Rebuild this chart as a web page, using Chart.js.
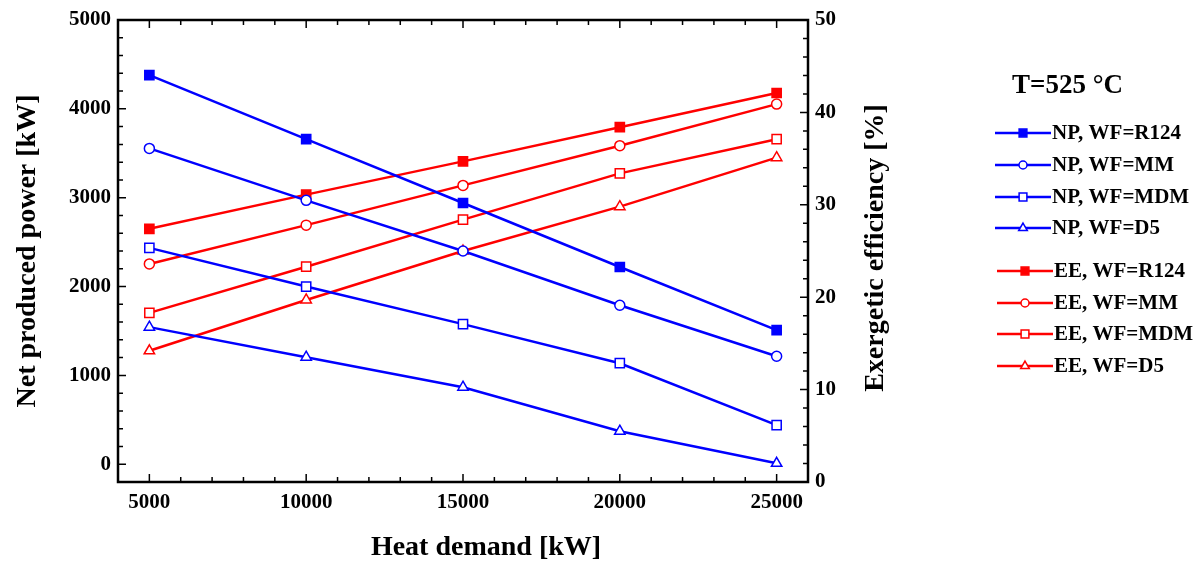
<!DOCTYPE html>
<html>
<head>
<meta charset="utf-8">
<script src="https://cdn.jsdelivr.net/npm/chart.js@4.4.0/dist/chart.umd.min.js"></script>
<style>
  html, body { margin: 0; padding: 0; background: #fff; }
  #wrap { width: 1204px; height: 569px; }
</style>
</head>
<body>
<div id="wrap"><canvas id="myChart" width="1204" height="569"></canvas></div>
<script>
// values
const heatDemand = [5000, 10000, 15000, 20000, 25000];

// net produced power [kW] (left axis)
const npR124 = [4380, 3660, 2940, 2220, 1510];
const npMM = [3555, 2970, 2400, 1790, 1215];
const npMDM = [2435, 2000, 1577, 1137, 440];
const npD5 = [1543, 1205, 867, 372, 10];

// exergetic efficiency [%] (right axis)
const eeR124 = [27.4, 31.1, 34.7, 38.4, 42.1];
const eeMM = [23.6, 27.8, 32.1, 36.4, 40.9];
const eeMDM = [18.3, 23.3, 28.4, 33.4, 37.1];
const eeD5 = [14.2, 19.7, 25.0, 29.8, 35.1];

const xTicks = [5000, 10000, 15000, 20000, 25000];
const leftTicks = [0, 1000, 2000, 3000, 4000, 5000];
const rightTicks = [0, 10, 20, 30, 40, 50];

const FONT = '"Liberation Serif", "Times New Roman", serif';
const BLUE = "#0000ff";
const RED = "#ff0000";

function series(label, values, axis, color, style, filled, radius) {
  return {
    label: label,
    data: heatDemand.map((x, i) => ({ x: x, y: values[i] })),
    yAxisID: axis,
    borderColor: color,
    backgroundColor: color,
    borderWidth: 2.5,
    pointStyle: style,
    pointRadius: radius,
    pointHoverRadius: radius,
    pointBackgroundColor: filled ? color : "#fff",
    pointBorderColor: color,
    pointBorderWidth: 1.5,
    tension: 0
  };
}

const datasets = [
  series("NP, WF=R124", npR124, "y", BLUE, "rect", true, 6.5),
  series("NP, WF=MM", npMM, "y", BLUE, "circle", false, 5),
  series("NP, WF=MDM", npMDM, "y", BLUE, "rect", false, 6.5),
  series("NP, WF=D5", npD5, "y", BLUE, "triangle", false, 6),
  series("EE, WF=R124", eeR124, "y2", RED, "rect", true, 6.5),
  series("EE, WF=MM", eeMM, "y2", RED, "circle", false, 5),
  series("EE, WF=MDM", eeMDM, "y2", RED, "rect", false, 6.5),
  series("EE, WF=D5", eeD5, "y2", RED, "triangle", false, 6)
];

// frame, inward ticks, axis titles, legend
const decoPlugin = {
  id: "deco",
  afterDatasetsDraw(chart) {
    const ctx = chart.ctx;
    const a = chart.chartArea;
    const sx = chart.scales.x, sy = chart.scales.y, sy2 = chart.scales.y2;
    ctx.save();
    ctx.strokeStyle = "#000";
    ctx.lineWidth = 2.5;
    ctx.strokeRect(a.left, a.top, a.right - a.left, a.bottom - a.top);

    ctx.lineWidth = 1.5;
    ctx.beginPath();
    for (let v = sx.min; v <= sx.max; v += 1000) {
      const px = sx.getPixelForValue(v);
      const len = v % 5000 === 0 ? 8 : 5;
      ctx.moveTo(px, a.bottom); ctx.lineTo(px, a.bottom - len);
      ctx.moveTo(px, a.top); ctx.lineTo(px, a.top + len);
    }
    for (let v = sy.min; v <= sy.max; v += 200) {
      const py = sy.getPixelForValue(v);
      const len = v % 1000 === 0 ? 8 : 5;
      ctx.moveTo(a.left, py); ctx.lineTo(a.left + len, py);
    }
    for (let v = sy2.min; v <= sy2.max; v += 2) {
      const py = sy2.getPixelForValue(v);
      const len = v % 10 === 0 ? 8 : 5;
      ctx.moveTo(a.right, py); ctx.lineTo(a.right - len, py);
    }
    ctx.stroke();

    // axis titles
    ctx.fillStyle = "#000";
    ctx.font = "bold 28px " + FONT;
    ctx.textAlign = "center";
    ctx.textBaseline = "middle";
    ctx.fillText("Heat demand [kW]", 486, 548);
    ctx.save();
    ctx.translate(28, (a.top + a.bottom) / 2);
    ctx.rotate(-Math.PI / 2);
    ctx.fillText("Net produced power [kW]", 0, 0);
    ctx.restore();
    ctx.save();
    ctx.translate(876, 248);
    ctx.rotate(-Math.PI / 2);
    ctx.fillText("Exergetic efficiency [%]", 0, 0);
    ctx.restore();

    // legend
    ctx.textAlign = "left";
    ctx.font = "bold 27px " + FONT;
    ctx.fillText("T=525 °C", 1012, 86);
    const rows = [133, 165, 197, 228, 271, 303, 334, 366];
    ctx.font = "bold 21px " + FONT;
    chart.data.datasets.forEach((ds, i) => {
      const y = rows[i];
      const x0 = i < 4 ? 995 : 997;
      ctx.strokeStyle = ds.borderColor;
      ctx.lineWidth = 2.5;
      ctx.beginPath();
      ctx.moveTo(x0, y); ctx.lineTo(x0 + 56, y);
      ctx.stroke();
      ctx.fillStyle = ds.pointBackgroundColor;
      ctx.strokeStyle = ds.pointBorderColor;
      ctx.lineWidth = 1.5;
      Chart.helpers.drawPoint(ctx, {
        pointStyle: ds.pointStyle,
        radius: ds.pointRadius - 1,
        rotation: 0,
        borderWidth: 1.5
      }, x0 + 28, y);
      ctx.fillStyle = "#000";
      ctx.fillText(ds.label, x0 + 57, y + 1);
    });
    ctx.restore();
  }
};

const tickFont = { family: FONT, size: 21, weight: "bold" };
const plainNumber = v => String(v);

const ctx = document.getElementById("myChart").getContext("2d");
const chart = new Chart(ctx, {
  type: "line",
  data: { datasets: datasets },
  options: {
    responsive: false,
    animation: false,
    events: [],
    layout: { padding: { top: 20, right: 296, bottom: 0, left: 0 } },
    plugins: {
      legend: { display: false },
      tooltip: { enabled: false }
    },
    scales: {
      x: {
        type: "linear",
        min: 4000,
        max: 26000,
        grid: { display: false, drawTicks: false },
        border: { display: false },
        afterBuildTicks: s => { s.ticks = xTicks.map(v => ({ value: v })); },
        afterFit: s => { s.height = 87; },
        ticks: { color: "#000", font: tickFont, padding: 8, maxRotation: 0, autoSkip: false, callback: plainNumber }
      },
      y: {
        type: "linear",
        position: "left",
        min: -200,
        max: 5000,
        grid: { display: false, drawTicks: false },
        border: { display: false },
        afterBuildTicks: s => { s.ticks = leftTicks.map(v => ({ value: v })); },
        afterFit: s => { s.width = 118; },
        ticks: { color: "#000", font: tickFont, padding: 7, autoSkip: false, callback: plainNumber }
      },
      y2: {
        type: "linear",
        position: "right",
        min: 0,
        max: 50,
        grid: { display: false, drawTicks: false },
        border: { display: false },
        afterBuildTicks: s => { s.ticks = rightTicks.map(v => ({ value: v })); },
        afterFit: s => { s.width = 100; },
        ticks: { color: "#000", font: tickFont, padding: 7, autoSkip: false, callback: plainNumber }
      }
    }
  },
  plugins: [decoPlugin]
});
</script>
</body>
</html>
